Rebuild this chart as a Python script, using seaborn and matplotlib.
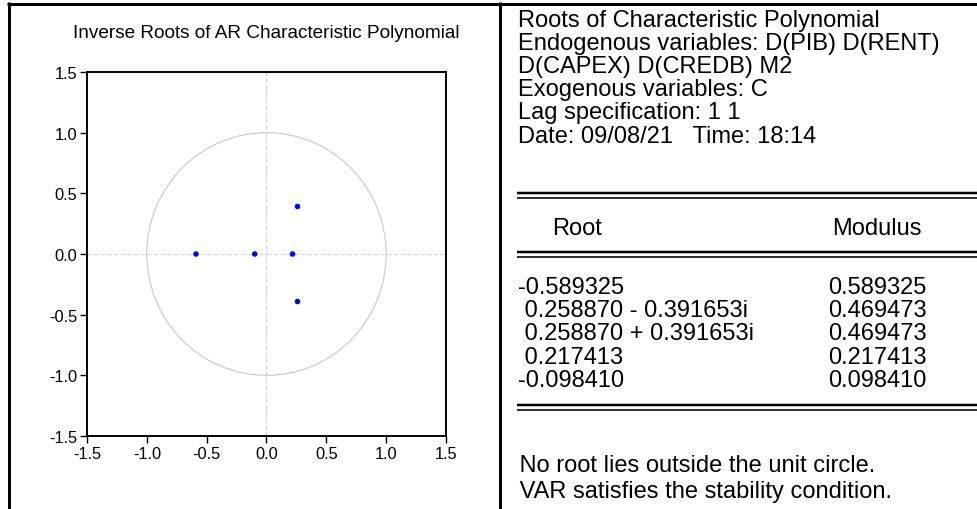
import numpy as np
import matplotlib
matplotlib.use("Agg")
import matplotlib.pyplot as plt
from matplotlib.lines import Line2D
from matplotlib.patches import Circle
import seaborn as sns
import pandas as pd

# ---------------- data ----------------
root_real = [-0.589325, 0.258870, 0.258870, 0.217413, -0.098410]
root_imag = [0.0, -0.391653, 0.391653, 0.0, 0.0]
root_labels = ["-0.589325", " 0.258870 - 0.391653i", " 0.258870 + 0.391653i",
               " 0.217413", "-0.098410"]
modulus_labels = ["0.589325", "0.469473", "0.469473", "0.217413", "0.098410"]
tick_values = [-1.5, -1.0, -0.5, 0.0, 0.5, 1.0, 1.5]
tick_labels = ["-1.5", "-1.0", "-0.5", "0.0", "0.5", "1.0", "1.5"]
chart_title = "Inverse Roots of AR Characteristic Polynomial"
header_lines = ["Roots of Characteristic Polynomial",
                "Endogenous variables: D(PIB) D(RENT)",
                "D(CAPEX) D(CREDB) M2",
                "Exogenous variables: C",
                "Lag specification: 1 1",
                "Date: 09/08/21   Time: 18:14"]
column_headers = ["Root", "Modulus"]
footer_lines = [" No root lies outside the unit circle.",
                " VAR satisfies the stability condition."]

# ---------------- style ----------------
sns.set_style("white")
plt.rcParams["font.family"] = ["Liberation Sans", "DejaVu Sans"]
plt.rcParams["text.color"] = "black"

W, H = 978, 510
fig = plt.figure(figsize=(W / 100, H / 100), dpi=100)
fig.patch.set_facecolor("white")


def fx(x):
    return x / W


def fy(y):
    return 1 - y / H


def hline(x0, x1, y, lw_px):
    fig.add_artist(Line2D([fx(x0), fx(x1)], [fy(y), fy(y)], color="black",
                          lw=lw_px * 0.72, solid_capstyle="butt"))


def vline(x, y0, y1, lw_px):
    fig.add_artist(Line2D([fx(x), fx(x)], [fy(y0), fy(y1)], color="black",
                          lw=lw_px * 0.72, solid_capstyle="butt"))


# ---------------- chart ----------------
ax_l, ax_t, ax_r, ax_b = 87, 73, 446, 437
ax = fig.add_axes([fx(ax_l), fy(ax_b), (ax_r - ax_l) / W, (ax_b - ax_t) / H])

ax.add_patch(Circle((0, 0), 1.0, fill=False, ec="#C8C8C8", lw=0.8, zorder=1))
ax.axhline(0, color="#D4D4D4", lw=0.8, ls=(0, (4, 2)), zorder=1)
ax.axvline(0, color="#D4D4D4", lw=0.8, ls=(0, (4, 2)), zorder=1)

df = pd.DataFrame({"Real": root_real, "Imag": root_imag})
sns.scatterplot(data=df, x="Real", y="Imag", ax=ax, color="#0000FF", s=16,
                edgecolor="none", linewidth=0, zorder=3)

ax.set_xlim(-1.5, 1.5)
ax.set_ylim(-1.5, 1.5)
ax.set_xticks(tick_values)
ax.set_xticklabels(tick_labels)
ax.set_yticks(tick_values)
ax.set_yticklabels(tick_labels)
ax.set_xlabel("")
ax.set_ylabel("")
for s in ax.spines.values():
    s.set_visible(True)
    s.set_color("black")
    s.set_linewidth(1.4)
ax.tick_params(axis="both", which="both", direction="out", length=5, width=1.0,
               colors="black", labelcolor="black", labelsize=11.8, bottom=True,
               left=True, top=False, right=False, pad=2)

fig.text(fx((ax_l + ax_r) / 2), fy(33), chart_title, ha="center", va="center",
         fontsize=13.7, color="black")

# ---------------- frame ----------------
hline(7, W, 4.5, 3)
vline(8.5, 3, H, 3)
vline(500, 3, H, 3)

# ---------------- right table ----------------
tx = 518
fs = 17
header_y = [21, 44, 67, 90, 113, 137]
for yy, t in zip(header_y, header_lines):
    fig.text(fx(tx), fy(yy), t, ha="left", va="center", fontsize=fs, color="black")


def double_line(y):
    hline(517, W, y, 2.5)
    hline(517, W, y + 4.5, 1.6)


double_line(194)
fig.text(fx(552), fy(229), column_headers[0], ha="left", va="center",
         fontsize=fs, color="black")
fig.text(fx(832), fy(229), column_headers[1], ha="left", va="center",
         fontsize=fs, color="black")
double_line(253)

row_y = [288, 311, 334, 358, 381]
for yy, r, m in zip(row_y, root_labels, modulus_labels):
    fig.text(fx(tx), fy(yy), r, ha="left", va="center", fontsize=fs, color="black")
    fig.text(fx(828), fy(yy), m, ha="left", va="center", fontsize=fs, color="black")

double_line(406)
foot_y = [466, 492]
for yy, t in zip(foot_y, footer_lines):
    fig.text(fx(tx - 5), fy(yy), t, ha="left", va="center", fontsize=fs,
             color="black")

fig.savefig("out.png", dpi=100, facecolor="white")
